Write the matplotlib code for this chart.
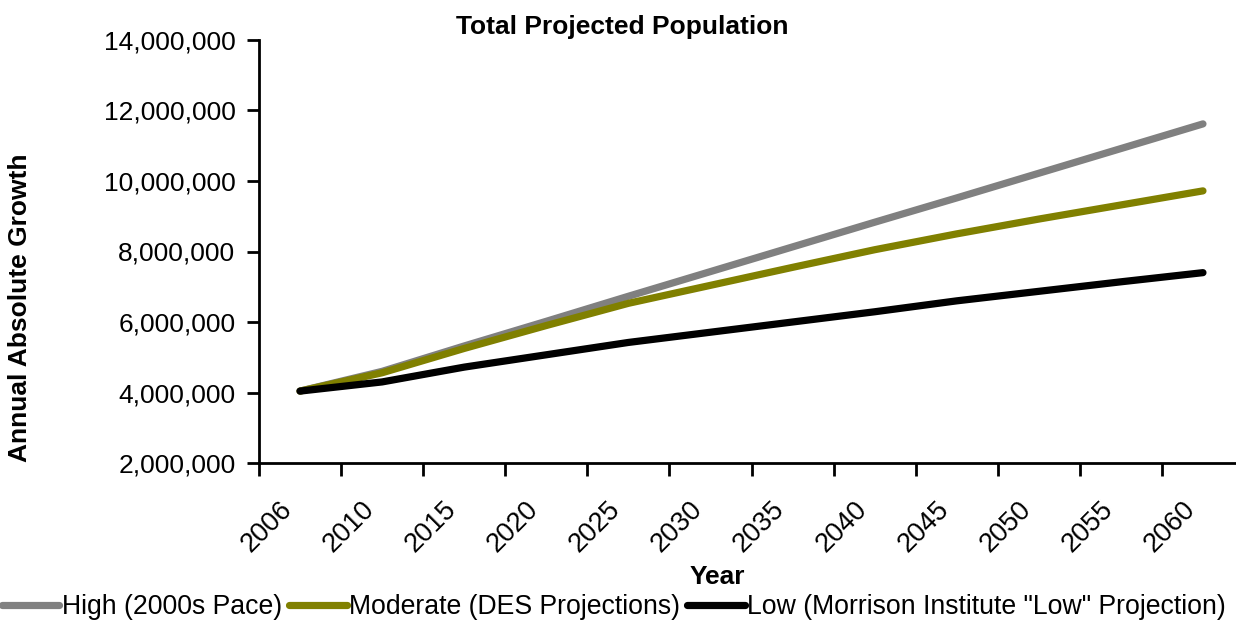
import numpy as np
import matplotlib
matplotlib.use("Agg")
import matplotlib.pyplot as plt
import matplotlib.transforms as mtransforms
from matplotlib.ticker import FuncFormatter

plt.rcParams["font.family"] = ["Liberation Sans", "DejaVu Sans"]

years = ["2006", "2010", "2015", "2020", "2025", "2030", "2035",
         "2040", "2045", "2050", "2055", "2060"]
high = [4.04, 4.60, 5.32, 6.02, 6.73, 7.43, 8.13, 8.83, 9.52, 10.22, 10.92, 11.62]
moderate = [4.04, 4.56, 5.25, 5.90, 6.53, 7.04, 7.55, 8.05, 8.50, 8.92, 9.32, 9.72]
low = [4.04, 4.30, 4.72, 5.07, 5.42, 5.71, 6.00, 6.29, 6.60, 6.87, 7.14, 7.40]
names = ["High (2000s Pace)", "Moderate (DES Projections)",
         "Low (Morrison Institute \"Low\" Projection)"]
colors = ["#808080", "#808000", "#000000"]

fig = plt.figure(figsize=(12.36, 6.24), dpi=100)
ax = fig.add_axes([259/1236, 161/624, 985/1236, 423/624])

x = np.arange(len(years))
for vals, name, c in zip([high, moderate, low], names, colors):
    ax.plot(x, np.array(vals) * 1e6, color=c, lw=5.2, label=name,
            solid_capstyle="round", solid_joinstyle="round")

ax.set_xlim(-0.5, len(years) - 0.5)
ax.set_ylim(2e6, 14e6)
ax.set_yticks(np.arange(2e6, 14.1e6, 2e6))
ax.yaxis.set_major_formatter(FuncFormatter(lambda v, p: f"{int(v):,}"))

ax.set_xticks(np.arange(-0.5, len(years), 1))
ax.set_xticklabels([])
ax.set_xticks(x, years, minor=True)
ax.tick_params(axis="x", which="minor", length=0, pad=24, labelsize=19.5)
ax.tick_params(axis="x", which="major", direction="out", length=9, width=2)
ax.tick_params(axis="y", direction="out", length=9, width=2, pad=8, labelsize=19)
offset = mtransforms.ScaledTranslation(-21/100, 0, fig.dpi_scale_trans)
for lab in ax.get_xticklabels(minor=True):
    lab.set_rotation(45)
    lab.set_ha("right")
    lab.set_va("top")
    lab.set_rotation_mode("anchor")
    lab.set_transform(lab.get_transform() + offset)

for s in ["top", "right"]:
    ax.spines[s].set_visible(False)
for s in ["left", "bottom"]:
    ax.spines[s].set_linewidth(2)

fig.text(622/1236, 1 - 27/624, "Total Projected Population", ha="center", va="center",
         fontsize=19, fontweight="bold")
fig.text(20/1236, 1 - 308/624, "Annual Absolute Growth", ha="center", va="center",
         rotation=90, fontsize=19, fontweight="bold")
fig.text(717/1236, 1 - 577/624, "Year", ha="center", va="center",
         fontsize=19, fontweight="bold")

fig.legend(loc="center", bbox_to_anchor=(614/1236, 1 - 607/624), ncol=3,
           frameon=False, fontsize=19.2, handlelength=2.15, handletextpad=0.1,
           columnspacing=0.27, borderpad=0, borderaxespad=0)

fig.savefig("out.png", dpi=100)
